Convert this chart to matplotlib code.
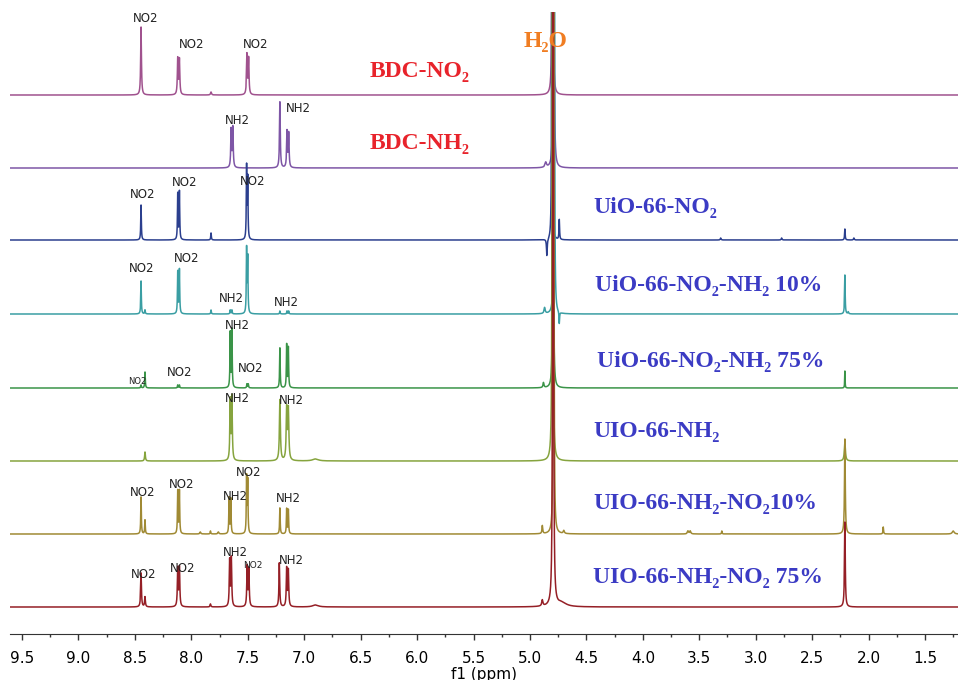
import numpy as np
import matplotlib
matplotlib.use("Agg")
import matplotlib.pyplot as plt
from matplotlib.ticker import MultipleLocator

# peak lists: (shift ppm, height, half width ppm); heights in plot units
WATER = 3000
bdc_no2 = [(8.445, 68, .004), (8.12, 36, .004), (8.105, 35, .004), (7.825, 3, .005),
           (7.507, 40, .004), (7.492, 36, .004), (4.80, WATER, .0013)]
bdc_nh2 = [(7.647, 38, .004), (7.632, 40, .004), (7.215, 66, .004), (7.152, 36, .004),
           (7.137, 34, .004), (4.86, 5, .008), (4.79, WATER, .0014)]
uio_no2 = [(8.445, 35, .003), (8.12, 46, .003), (8.105, 48, .003), (7.825, 7, .003),
           (7.51, 72, .003), (7.50, 60, .003), (4.85, -17, .004), (4.805, WATER, .0010),
           (4.74, 20, .003), (3.31, 2, .004), (2.77, 2, .004), (2.21, 11, .003), (2.13, 2, .004)]
uio_10 = [(8.445, 33, .003), (8.41, 4, .003), (8.12, 42, .003), (8.105, 44, .003),
          (7.825, 4, .003), (7.655, 4, .003), (7.64, 4, .003), (7.51, 64, .003), (7.50, 55, .003),
          (7.215, 3, .003), (7.152, 3, .003), (7.137, 3, .003), (4.87, 6, .006),
          (4.785, WATER, .0013), (4.74, -12, .003), (2.21, 39, .003), (2.18, 2, .004)]
uio_75 = [(8.445, 3, .003), (8.41, 16, .003), (8.12, 3, .003), (8.105, 3, .003),
          (7.655, 55, .003), (7.64, 58, .003), (7.507, 4, .003), (7.495, 4, .003),
          (7.215, 40, .003), (7.155, 43, .003), (7.14, 40, .003), (4.88, 5, .005),
          (4.795, WATER, .0012), (2.21, 17, .002)]
uio_nh2 = [(8.41, 9, .004), (7.655, 60, .004), (7.64, 63, .004), (7.215, 61, .005),
           (7.155, 51, .005), (7.14, 50, .005), (6.90, 2, .03), (4.80, WATER, .0016),
           (2.21, 18, .006)]
nn_10 = [(8.445, 37, .003), (8.41, 14, .003), (8.12, 43, .003), (8.105, 43, .003),
         (7.92, 2, .005), (7.83, 3, .003), (7.76, 2, .005), (7.665, 36, .003), (7.65, 35, .003),
         (7.51, 56, .003), (7.50, 52, .003), (7.215, 26, .003), (7.155, 25, .003),
         (7.14, 24, .003), (4.89, 8, .004), (4.79, WATER, .0014), (4.70, 3, .006),
         (3.60, 3, .006), (3.58, 3, .006), (3.30, 3, .003), (2.21, 95, .004), (1.87, 7, .003),
         (1.25, 3, .01)]
nn_75 = [(8.445, 34, .004), (8.41, 10, .004), (8.12, 38, .004), (8.105, 39, .004),
         (7.83, 3, .004), (7.66, 46, .004), (7.645, 48, .004), (7.505, 40, .004),
         (7.49, 37, .004), (7.22, 44, .004), (7.155, 38, .004), (7.14, 36, .004),
         (6.90, 2, .03), (4.89, 6, .006), (4.795, WATER, .0018), (4.72, 4, .05),
         (2.21, 85, .004)]

spectra = [bdc_no2, bdc_nh2, uio_no2, uio_10, uio_75, uio_nh2, nn_10, nn_75]
offsets = [539, 466, 394, 320, 246, 173, 100, 27]
colors = ['#a0528e', '#7e56a6', '#2b3f8e', '#3a9ea3', '#3a9448', '#86a43e', '#a08a34', '#951f26']

names = ['BDC-NO₂', 'BDC-NH₂', 'UiO-66-NO₂', 'UiO-66-NO₂-NH₂ 10%', 'UiO-66-NO₂-NH₂ 75%',
         'UIO-66-NH₂', 'UIO-66-NH₂-NO₂10%', 'UIO-66-NH₂-NO₂ 75%']
name_colors = ['#e8232b', '#e8232b'] + ['#3b3bc4'] * 6

# peak labels: (x px, y px, text, size)
peak_labels = [
    (146, 19, 'NO2', 8.5), (192, 45, 'NO2', 8.5), (256, 45, 'NO2', 8.5),
    (237, 120, 'NH2', 8.5), (298, 109, 'NH2', 8.5),
    (143, 194, 'NO2', 8.5), (185, 183, 'NO2', 8.5), (253, 182, 'NO2', 8.5),
    (142, 269, 'NO2', 8.5), (187, 258, 'NO2', 8.5), (231, 299, 'NH2', 8.5), (286, 302, 'NH2', 8.5),
    (137, 381, 'NO2', 6), (180, 372, 'NO2', 8.5), (237, 325, 'NH2', 8.5), (251, 369, 'NO2', 8.5),
    (237, 398, 'NH2', 8.5), (291, 400, 'NH2', 8.5),
    (143, 492, 'NO2', 8.5), (182, 485, 'NO2', 8.5), (249, 472, 'NO2', 8.5),
    (235, 497, 'NH2', 8.5), (288, 499, 'NH2', 8.5),
    (144, 574, 'NO2', 8.5), (183, 568, 'NO2', 8.5), (235, 552, 'NH2', 8.5),
    (253, 565, 'NO2', 6.5), (291, 561, 'NH2', 8.5),
]
name_pos = [(420, 72, 'center'), (420, 143, 'center'), (593, 208, 'left'), (595, 285, 'left'),
            (597, 362, 'left'), (593, 432, 'left'), (593, 503, 'left'), (593, 578, 'left')]

W, H = 958, 680
fig = plt.figure(figsize=(W / 100, H / 100), dpi=100)
ax = fig.add_axes([10 / W, 1 - 634 / H, 1 - 10 / W, (634 - 12) / H])

ppm = np.linspace(1.15, 9.7, 90000)
for peaks, off, c in zip(spectra, offsets, colors):
    y = np.zeros_like(ppm)
    for d, h, g in peaks:
        y += h * g**2 / ((ppm - d)**2 + g**2)
    ax.plot(ppm, y + off, color=c, lw=1.1)

ax.set_xlim(9.606, 1.208)
ax.set_ylim(0, 622)
ax.xaxis.set_major_locator(MultipleLocator(0.5))
ax.xaxis.set_minor_locator(MultipleLocator(0.25))
ax.tick_params(axis='x', which='major', length=4, width=1, labelsize=11, pad=8, color='#333333')
ax.tick_params(axis='x', which='minor', length=2.5, width=1, color='#333333')
ax.set_yticks([])
for s in ['top', 'left', 'right']:
    ax.spines[s].set_visible(False)
ax.spines['bottom'].set_color('#333333')
fig.text(484 / W, 1 - 674 / H, 'f1 (ppm)', fontsize=11, ha='center', va='center')

for x, y, t, s in peak_labels:
    fig.text(x / W, 1 - y / H, t, fontsize=s, ha='center', va='center', color='#222222')

serif = ['Liberation Serif', 'DejaVu Serif']
for (x, y, ha), n, c in zip(name_pos, names, name_colors):
    fig.text(x / W, 1 - y / H, n, fontsize=17, fontweight='bold', family=serif,
             color=c, ha=ha, va='center')
fig.text(546 / W, 1 - 42 / H, 'H₂O', fontsize=17, fontweight='bold', family=serif,
         color='#f07d22', ha='center', va='center')

fig.savefig('out.png', dpi=100)
